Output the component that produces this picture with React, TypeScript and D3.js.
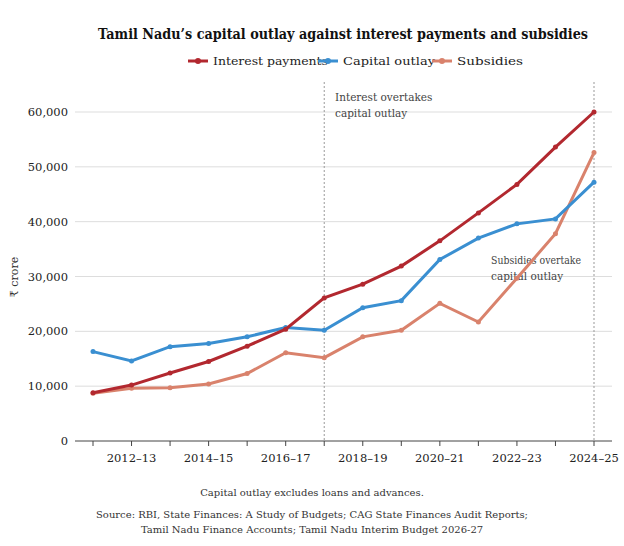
import * as React from 'react';
import * as d3 from 'd3';

const years = ['2011-12','2012–13','2013-14','2014–15','2015-16','2016–17','2017-18','2018–19','2019-20','2020–21','2021-22','2022–23','2023-24','2024–25'];
const interest = [8800,10200,12400,14500,17300,20400,26100,28600,31900,36500,41600,46800,53600,60000];
const capital = [16300,14600,17200,17800,19000,20700,20200,24300,25600,33100,37000,39600,40500,47200];
const subsidies = [8700,9600,9700,10400,12300,16100,15200,19000,20200,25100,21700,29700,37800,52600];
const yTicks = [0,10000,20000,30000,40000,50000,60000];
const xTickLabels = ['2012–13','2014–15','2016–17','2018–19','2020–21','2022–23','2024–25'];
const series = [
  { name: 'Interest payments', values: interest, color: '#b2282f' },
  { name: 'Capital outlay', values: capital, color: '#3a8fd1' },
  { name: 'Subsidies', values: subsidies, color: '#d9826c' },
];

const font = "'DejaVu Serif', serif";

export default function App() {
  const x = d3.scalePoint<string>().domain(years).range([93, 594]);
  const y = d3.scaleLinear().domain([0, 60000]).range([441, 112]);
  const line = d3.line<number>().x((_, i) => x(years[i])!).y(d => y(d));
  const fmt = d3.format(',');
  return (
    <svg width={624} height={546} style={{ position: 'absolute', left: 0, top: 0, background: '#fff' }} fontFamily={font}>
      <text x={98} y={39} fontSize={14.5} fontWeight="bold" fill="#111" textLength={490} lengthAdjust="spacingAndGlyphs">Tamil Nadu’s capital outlay against interest payments and subsidies</text>
      {(() => {
        const pos = [188, 318, 432];
        const widths = [115, 92, 66];
        return series.map((s, i) => (
          <g key={s.name} transform={`translate(${pos[i]},61)`}>
            <line x1={0} x2={20} stroke={s.color} strokeWidth={3} />
            <circle cx={10} r={3} fill={s.color} />
            <text x={25} y={4} fontSize={11.5} fill="#222" textLength={widths[i]} lengthAdjust="spacingAndGlyphs">{s.name}</text>
          </g>
        ));
      })()}
      {yTicks.map(t => (
        <g key={t}>
          <line x1={75} x2={612} y1={y(t)} y2={y(t)} stroke={t === 0 ? '#444' : '#ddd'} />
          <text x={68} y={y(t) + 4} textAnchor="end" fontSize={11.5} fill="#222">{fmt(t)}</text>
        </g>
      ))}
      {years.map(yr => (
        <line key={yr} x1={x(yr)} x2={x(yr)} y1={441} y2={446} stroke="#444" />
      ))}
      {xTickLabels.map(l => (
        <text key={l} x={x(l)} y={462} textAnchor="middle" fontSize={11.5} fill="#222">{l}</text>
      ))}
      <text transform="translate(18,277) rotate(-90)" textAnchor="middle" fontSize={11} fill="#333">₹ crore</text>
      {['2017-18', '2024–25'].map(yr => (
        <line key={yr} x1={x(yr)} x2={x(yr)} y1={82} y2={441} stroke="#999" strokeDasharray="2,2" />
      ))}
      <text x={335} y={101} fontSize={10.5} fill="#444">Interest overtakes</text>
      <text x={335} y={117} fontSize={10.5} fill="#444">capital outlay</text>
      <text x={491} y={264} fontSize={10.5} fill="#444" textLength={90} lengthAdjust="spacingAndGlyphs">Subsidies overtake</text>
      <text x={491} y={280} fontSize={10.5} fill="#444">capital outlay</text>
      {[...series].reverse().map(s => (
        <g key={s.name}>
          <path d={line(s.values)!} fill="none" stroke={s.color} strokeWidth={3} />
          {s.values.map((v, i) => <circle key={i} cx={x(years[i])} cy={y(v)} r={2.5} fill={s.color} />)}
        </g>
      ))}
      <text x={312} y={496} textAnchor="middle" fontSize={10} fill="#333">Capital outlay excludes loans and advances.</text>
      <text x={312} y={518} textAnchor="middle" fontSize={10} fill="#333">Source: RBI, State Finances: A Study of Budgets; CAG State Finances Audit Reports;</text>
      <text x={312} y={533} textAnchor="middle" fontSize={10} fill="#333">Tamil Nadu Finance Accounts; Tamil Nadu Interim Budget 2026-27</text>
    </svg>
  );
}
